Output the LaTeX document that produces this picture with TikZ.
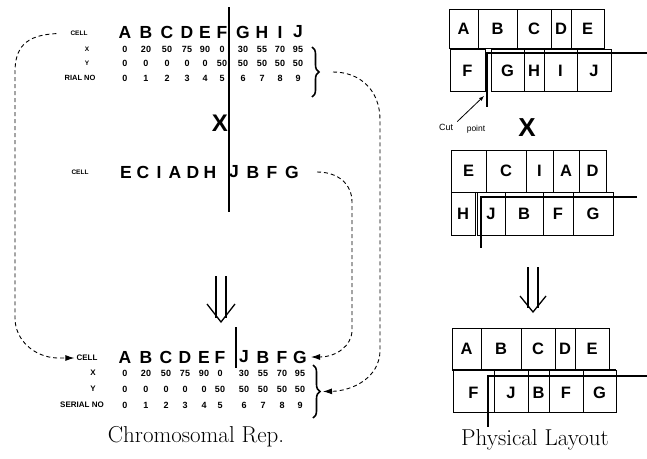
\documentclass[tikz,border=0pt]{standalone}
\usepackage{fontspec}
\newfontfamily\hv{Liberation Sans}
\usetikzlibrary{arrows.meta,decorations.pathreplacing}

\begin{document}
\begin{tikzpicture}[x=1pt,y=-1pt,>=Latex,
  big/.style={font=\hv\bfseries\fontsize{17.5}{17.5}\selectfont,inner sep=0pt},
  num/.style={font=\hv\bfseries\fontsize{9}{9}\selectfont,inner sep=0pt},
  lbl/.style={font=\hv\bfseries\fontsize{6.5}{6.5}\selectfont,inner sep=0pt},
  lblb/.style={font=\hv\bfseries\fontsize{8}{8}\selectfont,inner sep=0pt},
  cellt/.style={font=\hv\bfseries\fontsize{16.5}{16.5}\selectfont,inner sep=0pt},
  box/.style={line width=0.7pt},
  cut/.style={line width=2pt},
  link/.style={line width=0.9pt,dash pattern=on 4pt off 3pt},
  brc/.style={decorate,decoration={brace,amplitude=7pt},line width=1.6pt},
  caption/.style={font=\fontsize{23}{23}\selectfont,inner sep=0pt}]
  \useasboundingbox (0,0) rectangle (647,458);

  \node[lbl] (celltop) at (79,33) {CELL};
  \node[lbl] (xtop) at (87,49) {X};
  \node[lbl] (ytop) at (87,63) {Y};
  \node[lbl,font=\hv\bfseries\fontsize{7.5}{7.5}\selectfont] (stop) at (80,78) {RIAL NO};
  \foreach \x/\l/\vx/\vy [count=\i] in {125/A/0/0,146/B/20/0,167/C/50/0,187/D/75/0,205/E/90/0,
    222/F/0/50,243/G/30/50,262/H/55/50,280/I/70/50,298/J/95/50}{
    \node[big] (ta\i) at (\x,32) {\l};
    \node[num] (tx\i) at (\x,49) {\vx};
    \node[num] (ty\i) at (\x,63) {\vy};
    \pgfmathtruncatemacro\n{\i-1}
    \node[num] (tn\i) at (\x,78) {\n};
  }
  \draw[cut,line width=1.6pt] (229,7) -- (229,212);
  \draw[brc] (312,47) -- (312,97) coordinate[midway,xshift=9pt] (tiptop);

  \node[big,font=\hv\bfseries\fontsize{24}{24}\selectfont] (crossl) at (220,123) {X};

  \node[lbl] (cellmid) at (80,172) {CELL};
  \foreach \x/\l [count=\i] in {126/E,143/C,159/I,175/A,193/D,210/H,234/J,253/B,272/F,292/G}{
    \node[big] (ma\i) at (\x,172) {\l};
  }

  \draw[line width=1.3pt] (216,276) -- (216,318) (226,276) -- (226,318);
  \draw[line width=1.3pt] (207,304) -- (221,322) -- (235,304);

  \node[lblb] (cellbot) at (87,358) {CELL};
  \node[lblb] (xbot) at (93,373) {X};
  \node[lblb] (ybot) at (93,389) {Y};
  \node[lblb] (sbot) at (82,405) {SERIAL NO};
  \foreach \x/\l/\vx/\vy [count=\i] in {125/A/0/0,146/B/20/0,166/C/50/0,185/D/75/0,204/E/90/0,
    220/F/0/50,244/J/30/50,263/B/55/50,282/F/70/50,300/G/95/50}{
    \node[big] (ba\i) at (\x,357) {\l};
    \node[num] (bx\i) at (\x,373) {\vx};
    \node[num] (by\i) at (\x,389) {\vy};
    \pgfmathtruncatemacro\n{\i-1}
    \node[num] (bn\i) at (\x,405) {\n};
  }
  \draw[cut,line width=1.6pt] (236,327) -- (236,368);
  \draw[brc] (313,365) -- (313,418) coordinate[midway,xshift=9pt] (tipbot);

  \draw[link,-{Latex[length=9pt,width=6pt]},shorten <=14pt,shorten >=2pt] (celltop.west) .. controls (25,35) and (15,48) .. (15,72)
    -- (15,318) .. controls (15,340) and (34,357) .. (57,358) -- (cellbot.west);
  \draw[link,-{Latex[length=9pt,width=6pt]},shorten <=12pt,shorten >=1pt] (tiptop) .. controls (360,72) and (380,90) .. (380,120)
    -- (380,350) .. controls (380,378) and (352,391) .. (tipbot);
  \draw[link,-{Latex[length=9pt,width=6pt]},shorten <=18pt,shorten >=4pt] (ma10.east) .. controls (338,172) and (352,184) .. (352,202)
    -- (352,330) .. controls (352,346) and (336,357) .. (ba10.east);

  \node[caption] (capl) at (196,437) {Chromosomal Rep.};

  \foreach \l/\a/\b [count=\i] in {A/449/478,B/478/517,C/517/551,D/551/571,E/571/604}{
    \draw[box] (\a,9) rectangle (\b,48);
    \node[cellt] (pa\i) at ({(\a+\b)/2},28.5) {\l};
  }
  \foreach \l/\a/\b [count=\i] in {F/450/485,G/491/524,H/524/544,I/544/577,J/577/611}{
    \draw[box] (\a,49) rectangle (\b,91);
    \node[cellt] (pb\i) at ({(\a+\b)/2},71) {\l};
  }
  \draw[cut] (649,53) -- (487,53) -- (487,107);
  \node[font=\hv\fontsize{9}{9}\selectfont,inner sep=0pt] (cutl) at (446,127) {Cut};
  \node[font=\hv\fontsize{8.5}{8.5}\selectfont,inner sep=0pt] (pointl) at (476,129) {point};
  \coordinate (cutpt) at (484,96);
  \draw[line width=0.8pt,-{Latex[length=5pt,width=4pt]}] ([xshift=4pt,yshift=2pt]cutl.north east) -- (cutpt);
  \node[font=\hv\bfseries\fontsize{26}{26}\selectfont,inner sep=0pt] (crossr) at (527,128) {X};

  \foreach \l/\a/\b [count=\i] in {E/451/486,C/486/526,I/526/553,A/553/579,D/579/606}{
    \draw[box] (\a,150) rectangle (\b,192);
    \node[cellt] (pc\i) at ({(\a+\b)/2},171) {\l};
  }
  \foreach \l/\a/\b [count=\i] in {H/451/475,J/477/505,B/505/543,F/543/573,G/573/613}{
    \draw[box] (\a,192) rectangle (\b,235);
    \node[cellt] (pd\i) at ({(\a+\b)/2},214) {\l};
  }
  \draw[cut] (637,197) -- (481,197) -- (481,248);

  \draw[line width=1.3pt] (528,267) -- (528,308) (538,267) -- (538,308);
  \draw[line width=1.3pt] (520,296) -- (533,312) -- (546,296);

  \foreach \l/\a/\b [count=\i] in {A/452/481,B/481/521,C/521/555,D/555/575,E/575/609}{
    \draw[box] (\a,328) rectangle (\b,370);
    \node[cellt] (pe\i) at ({(\a+\b)/2},349) {\l};
  }
  \foreach \l/\a/\b [count=\i] in {F/453/494,J/494/528,B/528/549,F/549/583,G/583/616}{
    \draw[box] (\a,370) rectangle (\b,412);
    \node[cellt] (pf\i) at ({(\a+\b)/2},393) {\l};
  }
  \draw[cut] (452,370) -- (616,370);
  \draw[cut] (647,376) -- (488,376) -- (488,427);

  \node[caption] (capr) at (535,440) {Physical Layout};
\end{tikzpicture}
\end{document}
